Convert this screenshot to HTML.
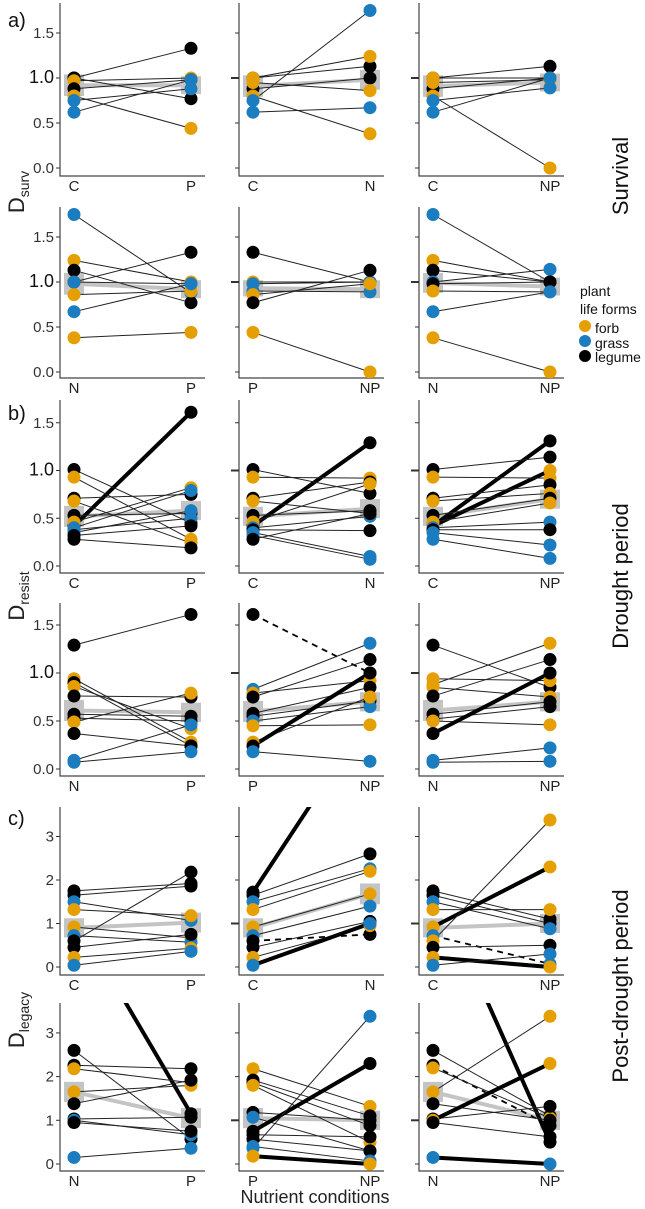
<!DOCTYPE html>
<html><head><meta charset="utf-8"><style>
body{margin:0;background:#fff}
svg{display:block;font-family:"Liberation Sans",sans-serif}
</style></head><body>
<svg id="chart" width="645" height="1209" viewBox="0 0 645 1209" xmlns="http://www.w3.org/2000/svg">
<g id="panels"></g>
<text x="8" y="27" font-size="20" fill="#111">a)</text>
<text x="8" y="420" font-size="20" fill="#111">b)</text>
<text x="8" y="825" font-size="20" fill="#111">c)</text>
<text transform="translate(24,192) rotate(-90)" text-anchor="middle" font-size="22" fill="#222">D<tspan font-size="14" dy="5">surv</tspan></text>
<text transform="translate(24,596) rotate(-90)" text-anchor="middle" font-size="22" fill="#222">D<tspan font-size="14" dy="5">resist</tspan></text>
<text transform="translate(24,1020) rotate(-90)" text-anchor="middle" font-size="22" fill="#222">D<tspan font-size="14" dy="5">legacy</tspan></text>
<text transform="translate(628,176) rotate(-90)" text-anchor="middle" font-size="22" fill="#111">Survival</text>
<text transform="translate(628,576) rotate(-90)" text-anchor="middle" font-size="22" fill="#111">Drought period</text>
<text transform="translate(628,986) rotate(-90)" text-anchor="middle" font-size="22" fill="#111">Post-drought period</text>
<g>
<text x="580" y="296" font-size="14" fill="#111">plant</text>
<text x="580" y="314" font-size="14" fill="#111">life forms</text>
<circle cx="585" cy="326" r="6" fill="#E69F00"/>
<text x="595" y="333" font-size="14" fill="#111">forb</text>
<circle cx="585" cy="341" r="6" fill="#1B7DBF"/>
<text x="595" y="348" font-size="14" fill="#111">grass</text>
<circle cx="585" cy="356" r="6" fill="#000"/>
<text x="595" y="362" font-size="14" fill="#111">legume</text>
</g>
<text x="315" y="1203" text-anchor="middle" font-size="18" fill="#222">Nutrient conditions</text>
</svg>
<script>
// categories per panel (row-major, 18 panels)
const catLeft  = ["C","C","C","N","P","N","C","C","C","N","P","N","C","C","C","N","P","N"];
const catRight = ["P","N","NP","P","NP","NP","P","N","NP","P","NP","NP","P","N","NP","P","NP","NP"];
// left values per pair
const leftVals = [
 [1.0,1.0,0.97,0.88,0.8,0.75,0.62],
 [1.0,0.88,1.0,0.95,0.8,0.75,0.62],
 [1.0,0.88,1.0,0.95,0.8,0.75,0.62],
 [1.75,1.24,1.13,1.0,1.0,0.86,0.67,0.38],
 [1.33,1.0,0.98,0.9,0.86,0.77,0.44],
 [1.75,1.24,1.13,1.0,0.98,0.9,0.67,0.38],
 [0.42,1.01,0.93,0.71,0.68,0.53,0.46,0.4,0.38,0.35,0.32,0.28],
 [0.42,1.01,0.93,0.71,0.68,0.53,0.46,0.4,0.38,0.35,0.32,0.28],
 [0.42,0.42,1.01,0.93,0.71,0.68,0.53,0.46,0.4,0.38,0.35,0.28],
 [1.29,0.94,0.9,0.86,0.76,0.57,0.53,0.49,0.37,0.09,0.07],
 [1.61,0.83,0.79,0.75,0.58,0.55,0.5,0.45,0.28,0.24,0.18],
 [1.29,0.94,0.88,0.85,0.76,0.57,0.52,0.5,0.37,0.09,0.07],
 [1.75,1.65,1.5,1.32,0.92,0.72,0.6,0.45,0.22,0.04],
 [1.72,1.65,1.5,1.32,0.92,0.72,0.6,0.45,0.22,0.04],
 [1.75,1.65,1.5,1.32,0.92,0.72,0.6,0.45,0.22,0.04],
 [5.7,2.6,2.26,2.18,1.65,1.38,1.03,1.0,0.95,0.15],
 [2.18,1.92,1.86,1.8,1.18,1.07,0.75,0.67,0.57,0.4,0.36,0.18],
 [6.5,2.6,2.26,2.2,1.65,1.38,1.03,1.0,0.95,0.15]
];
// right values per pair
const rightVals = [
 [1.33,0.77,1.0,0.98,0.44,0.88,0.98],
 [1.13,1.0,1.24,0.86,0.38,1.75,0.67],
 [1.13,1.0,1.0,0.98,0.0,0.89,1.0],
 [0.88,1.0,0.77,1.33,0.98,0.9,0.98,0.44],
 [1.0,1.0,1.0,0.89,0.98,1.13,0.0],
 [1.0,1.0,1.0,1.14,1.0,0.89,0.89,0.0],
 [1.61,0.45,0.28,0.75,0.24,0.55,0.82,0.79,0.5,0.58,0.42,0.19],
 [1.29,0.76,0.92,0.88,0.55,0.58,0.86,0.52,0.37,0.1,0.07,0.55],
 [1.31,1.0,1.14,0.92,0.85,0.76,0.71,0.66,0.46,0.38,0.22,0.08],
 [1.61,0.28,0.24,0.42,0.75,0.55,0.5,0.79,0.24,0.46,0.18],
 [1.0,1.31,0.92,1.14,0.85,0.71,0.65,0.46,0.75,1.0,0.08],
 [0.85,0.92,1.31,0.75,1.14,0.7,0.65,0.46,1.0,0.22,0.08],
 [1.92,1.86,1.07,1.18,0.67,0.57,2.18,0.75,0.43,0.36],
 [5.8,2.6,2.26,2.2,1.68,1.4,0.75,1.05,0.95,1.0],
 [1.1,1.0,0.88,1.32,2.3,0.07,3.38,0.5,0.0,0.3],
 [1.15,0.57,2.18,1.86,1.8,1.92,1.07,0.67,0.75,0.36],
 [1.32,1.1,0.88,0.5,1.0,0.3,2.3,0.62,0.3,0.07,3.38,0.0],
 [0.5,1.1,0.88,1.05,3.38,1.0,1.32,2.3,0.62,0.0]
];
// life forms: f=forb, g=grass, l=legume
const lifeForms = [
 ["l","l","f","l","f","g","g"],
 ["l","l","f","f","f","g","g"],
 ["l","l","f","f","f","g","g"],
 ["g","f","l","l","g","f","g","f"],
 ["l","f","g","g","f","l","f"],
 ["g","f","l","g","l","f","g","f"],
 ["l","l","f","l","f","l","f","g","g","g","l","l"],
 ["l","l","f","l","f","l","f","g","l","g","g","l"],
 ["l","f","l","f","l","f","l","f","g","l","g","g"],
 ["l","f","l","f","l","l","l","f","l","g","g"],
 ["l","g","f","l","l","l","g","f","f","l","g"],
 ["l","f","f","f","l","l","l","f","l","g","g"],
 ["l","l","g","f","f","g","l","l","f","g"],
 ["l","l","g","f","f","g","l","l","f","g"],
 ["l","l","g","f","f","g","f","l","f","g"],
 ["l","l","l","f","f","l","l","g","l","g"],
 ["f","l","l","f","l","g","l","l","l","g","g","f"],
 ["l","l","l","f","f","l","l","f","l","g"]
];
// line styles: n=normal, t=thick (significant), d=dashed
const lineStyles = [
 ["n","n","n","n","n","n","n"],
 ["n","n","n","n","n","n","n"],
 ["n","n","n","n","n","n","n"],
 ["n","n","n","n","n","n","n","n"],
 ["n","n","n","n","n","n","n"],
 ["n","n","n","n","n","n","n","n"],
 ["t","n","n","n","n","n","n","n","n","n","n","n"],
 ["t","n","n","n","n","n","n","n","n","n","n","n"],
 ["t","t","n","n","n","n","n","n","n","n","n","n"],
 ["n","n","n","n","n","n","n","n","n","n","n"],
 ["d","n","n","n","n","n","n","n","n","t","n"],
 ["n","n","n","n","n","n","n","n","t","n","n"],
 ["n","n","n","n","n","n","n","n","n","n"],
 ["t","n","n","n","n","n","d","n","n","t"],
 ["n","n","n","n","t","d","n","n","t","n"],
 ["t","n","n","n","n","n","n","n","n","n"],
 ["n","n","n","n","n","n","t","n","n","n","n","t"],
 ["t","n","d","n","n","n","n","t","n","t"]
];
// group means and CI half-widths
const meanLeft  = [0.92,0.91,0.91,0.98,0.93,0.99,0.52,0.52,0.52,0.61,0.6,0.61,0.9,0.9,0.9,1.65,1.05,1.65];
const meanRight = [0.92,0.98,0.95,0.92,0.92,0.95,0.58,0.6,0.7,0.59,0.7,0.7,1.02,1.68,1.0,1.05,1.0,1.0];
const ciLeft    = [0.12,0.12,0.12,0.12,0.09,0.11,0.11,0.1,0.1,0.11,0.11,0.11,0.22,0.22,0.22,0.23,0.23,0.23];
const ciRight   = [0.1,0.11,0.1,0.1,0.1,0.1,0.1,0.1,0.1,0.1,0.1,0.1,0.23,0.24,0.22,0.23,0.22,0.22];
// axis ticks
const tickValsA = [0,0.5,1.0,1.5];
const tickLabsA = ["0.0","0.5","1.0","1.5"];
const tickValsB = [0,1,2,3];
const tickLabsB = ["0","1","2","3"];

const NS="http://www.w3.org/2000/svg";
const rows=[
 {top:3,zero:168,unit:90,axis:176},
 {top:207,zero:372,unit:90,axis:378},
 {top:400,zero:566,unit:95.5,axis:573},
 {top:603,zero:769,unit:96,axis:776},
 {top:807,zero:967,unit:43.5,axis:975},
 {top:1003,zero:1164,unit:43.7,axis:1171}
];
const colsX=[60,239,419], W=145;
const colors={f:"#E69F00",g:"#1B7DBF",l:"#000000"};
const root=document.getElementById("panels");
function mk(tag,attrs,parent){const e=document.createElementNS(NS,tag);for(const k in attrs)e.setAttribute(k,attrs[k]);parent.appendChild(e);return e;}
const defs=mk("defs",{},root);

for(let p=0;p<18;p++){
 const r=Math.floor(p/3), c=p%3, R=rows[r], x0=colsX[c];
 const y=v=>R.zero-v*R.unit;
 const xL=x0+14, xR=x0+131;
 const g=mk("g",{},root);
 
 
 const cp=mk("clipPath",{id:"cp"+p},defs);
 mk("rect",{x:x0,y:R.top,width:W+5,height:R.axis-R.top},cp);
 const ax=mk("path",{d:`M${x0},${R.top}V${R.axis}H${x0+W}`,stroke:"#444",fill:"none","stroke-width":1.2},g);
 
 
 const tv=r<4?tickValsA:tickValsB, tl=r<4?tickLabsA:tickLabsB;
 tv.forEach((v,i)=>{
  const major=(v===1);
  const t=mk("line",{x1:x0-(major&&c>0?8:4),x2:x0,y1:y(v),y2:y(v),stroke:"#333","stroke-width":major&&c>0?2:1},g);
  
  
  if(c===0){
   const tx=mk("text",{x:x0-6,y:y(v)+5,"text-anchor":"end","font-size":(major&&r<4)?18:15,fill:(major&&r<4)?"#111":"#333"},g);
   tx.textContent=tl[i];
   
   
  }
 });
 [[xL,catLeft[p]],[xR,catRight[p]]].forEach(([xx,lab])=>{
  const t=mk("text",{x:xx,y:R.axis+15,"text-anchor":"middle","font-size":15,fill:"#222"},g);
  t.textContent=lab;
  
  
 });
 const inner=mk("g",{"clip-path":`url(#cp${p})`},g);
 [[xL,meanLeft[p],ciLeft[p]],[xR,meanRight[p],ciRight[p]]].forEach(([xx,m,ci])=>{
  const b=mk("rect",{x:xx-10,y:y(m+ci),width:20,height:y(m-ci)-y(m+ci),fill:"#c4c4c4"},inner);
  
  
 });
 const ml=mk("line",{x1:xL,x2:xR,y1:y(meanLeft[p]),y2:y(meanRight[p]),stroke:"#c4c4c4","stroke-width":4},inner);
 
 
 const L=leftVals[p], Rv=rightVals[p], T=lifeForms[p], S=lineStyles[p];
 for(let i=0;i<L.length;i++){
  const st=S[i];
  const a={x1:xL,x2:xR,y1:y(L[i]),y2:y(Rv[i]),stroke:st==="n"?"#222":"#000","stroke-width":st==="t"?4:(st==="d"?1.8:1)};
  if(st==="d")a["stroke-dasharray"]="6,5";
  const ln=mk("line",a,inner);
  
  
 }
 for(let i=0;i<L.length;i++){
  [[xL,L[i]],[xR,Rv[i]]].forEach(([xx,v])=>{
   const pt=mk("circle",{cx:xx,cy:y(v),r:6.5,fill:colors[T[i]]},inner);
   
   
  });
 }
}
</script>
</body></html>
